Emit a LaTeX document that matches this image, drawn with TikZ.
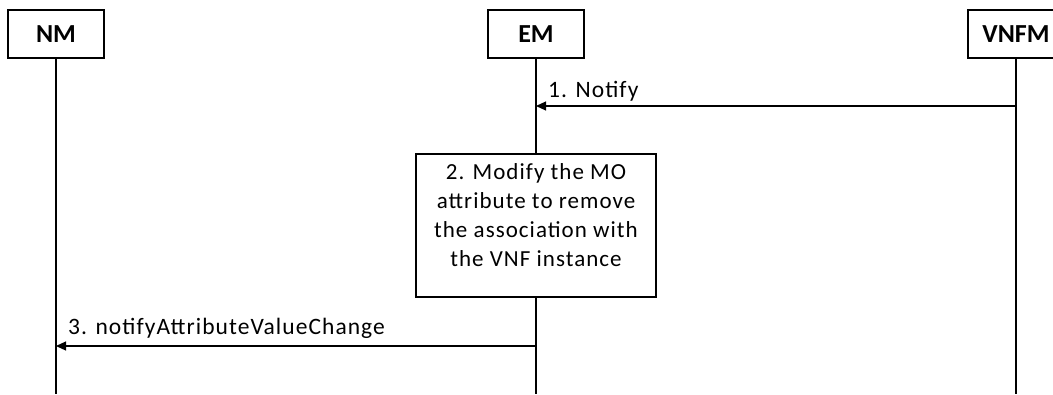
\documentclass[tikz,border=0pt]{standalone}
\usepackage{fontspec}
\setmainfont{Carlito}[LetterSpace=4.5]
\newfontfamily\entityfont{Carlito}
\usetikzlibrary{arrows.meta}
\tikzset{
  entity/.style={draw, line width=1.1pt, minimum width=96pt, minimum height=48pt, inner sep=0pt, font=\fontsize{26}{30}\entityfont\bfseries},
  lifeline/.style={draw, line width=1.1pt},
  msg/.style={draw, line width=1.1pt, -{Triangle[length=10pt,width=9pt]}},
  msgtext/.style={font=\fontsize{23.5}{28}\selectfont, inner sep=0pt, anchor=base west},
  action/.style={draw, line width=1.1pt, minimum width=240pt, minimum height=143pt, align=center, inner sep=0pt, text depth=20pt, font=\fontsize{23}{29}\selectfont}
}
\begin{document}
\begin{tikzpicture}[x=1pt,y=-1pt]
\useasboundingbox (0,0) rectangle (1053,394);
% entities
\node[entity] (nm) at (56,34) {NM};
\node[entity] (em) at (536,34) {EM};
\node[entity] (vnfm) at (1016,34) {VNFM};
% lifelines
\coordinate (nmend) at (56,394);
\coordinate (emend) at (536,394);
\coordinate (vnfmend) at (1016,394);
% step 2
\node[action] (modify) at (536,225.5) {2. Modify the MO\\attribute to remove\\the association with\\the VNF instance};
\draw[lifeline] (nm) -- (nmend);
\draw[lifeline] (em) -- (modify);
\draw[lifeline] (modify) -- (emend);
\draw[lifeline] (vnfm) -- (vnfmend);
% step 1
\coordinate (n1a) at (1016,106);
\coordinate (n1b) at (536,106);
\draw[msg] (n1a) -- (n1b);
\node[msgtext] (notify) at (548,97) {1. Notify};
% step 3
\coordinate (n3a) at (536,346);
\coordinate (n3b) at (56,346);
\draw[msg] (n3a) -- (n3b);
\node[msgtext] (change) at (68,334) {3. notifyAttributeValueChange};
\end{tikzpicture}
\end{document}
